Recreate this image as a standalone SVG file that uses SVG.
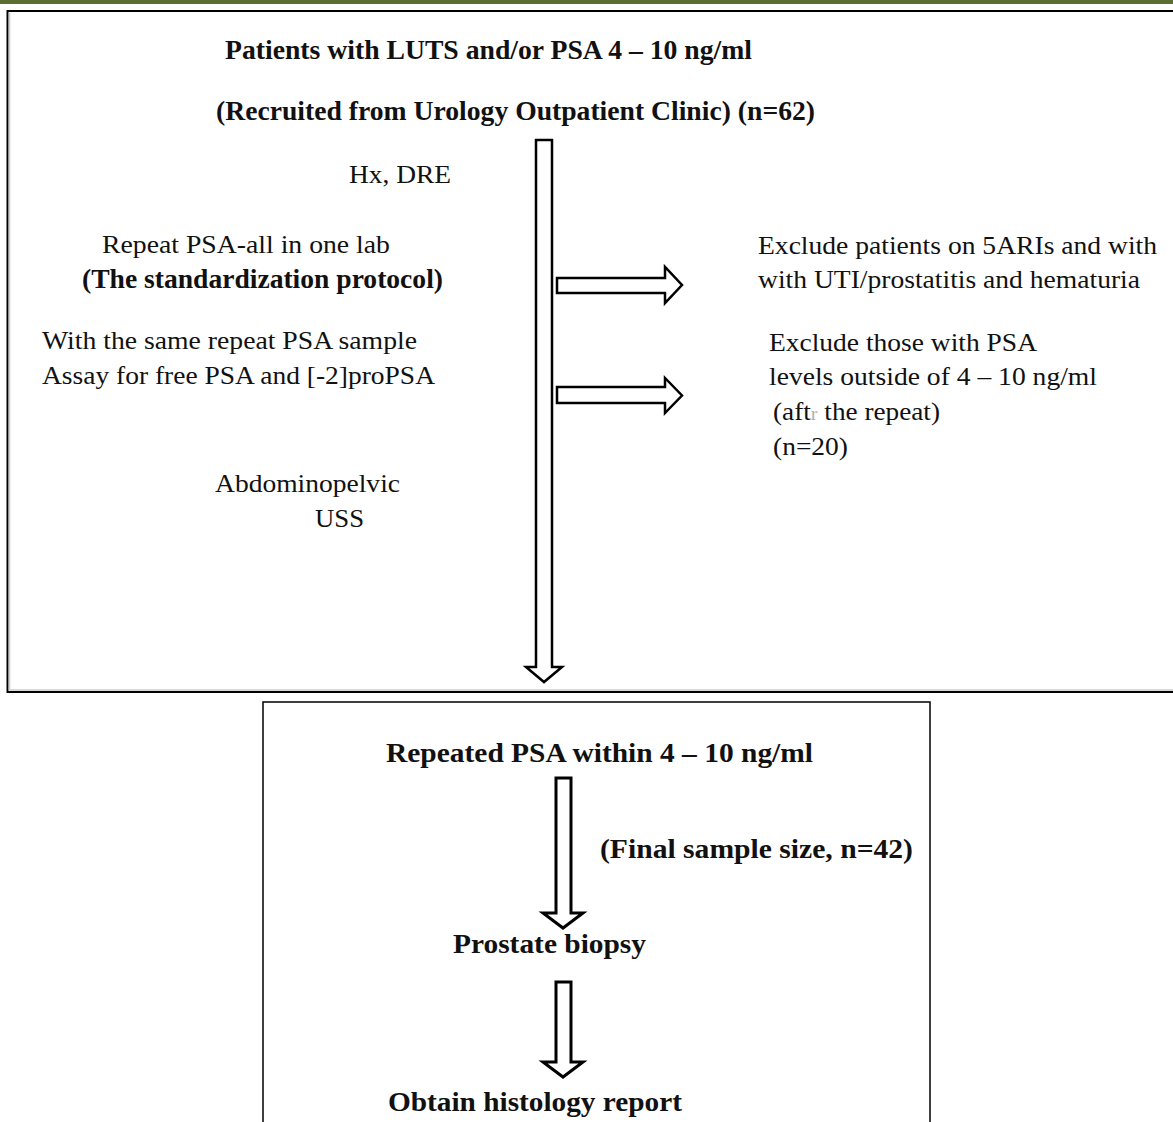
<svg xmlns="http://www.w3.org/2000/svg" width="1173" height="1122" viewBox="0 0 1173 1122">
<style>
.box{fill:#fff;stroke:#000;stroke-width:2}
.arrow{fill:#fff;stroke:#000;stroke-width:2.5;stroke-linejoin:miter}
.arrow2{fill:#fff;stroke:#000;stroke-width:3;stroke-linejoin:miter}
.t{font-family:"Liberation Serif","Times New Roman",serif;font-size:25.5px;fill:#111}
.b{font-family:"Liberation Serif","Times New Roman",serif;font-size:27.5px;font-weight:bold;fill:#111}
</style>
<rect x="0" y="0" width="1173" height="1122" fill="#fff"/>
<rect x="0" y="0" width="1173" height="4" fill="#5b6e2f"/>
<g id="box-screening">
<rect class="box" x="7.5" y="11" width="1180" height="681"/>
<line x1="9.5" y1="13" x2="9.5" y2="690" stroke="#ccc" stroke-width="1.5"/>
<line x1="9.5" y1="690" x2="1173" y2="690" stroke="#ccc" stroke-width="1.5"/>
<text class="b" x="225" y="59" textLength="527" lengthAdjust="spacingAndGlyphs">Patients with LUTS and/or PSA 4 – 10 ng/ml</text>
<text class="b" x="216" y="120" textLength="599" lengthAdjust="spacingAndGlyphs">(Recruited from Urology Outpatient Clinic) (n=62)</text>
<text class="t" x="349" y="183" textLength="102" lengthAdjust="spacingAndGlyphs">Hx, DRE</text>
<text class="t" x="102" y="253" textLength="288" lengthAdjust="spacingAndGlyphs">Repeat PSA-all in one lab</text>
<text class="b" x="82" y="288" textLength="361" lengthAdjust="spacingAndGlyphs">(The standardization protocol)</text>
<text class="t" x="42" y="349" textLength="375" lengthAdjust="spacingAndGlyphs">With the same repeat PSA sample</text>
<text class="t" x="42" y="384" textLength="393" lengthAdjust="spacingAndGlyphs">Assay for free PSA and [-2]proPSA</text>
<text class="t" x="215" y="492" textLength="185" lengthAdjust="spacingAndGlyphs">Abdominopelvic</text>
<text class="t" x="315" y="527" textLength="49" lengthAdjust="spacingAndGlyphs">USS</text>
</g>
<g id="exclusion-1">
<text class="t" x="758" y="254" textLength="399" lengthAdjust="spacingAndGlyphs">Exclude patients on 5ARIs and with</text>
<text class="t" x="758" y="288" textLength="382" lengthAdjust="spacingAndGlyphs">with UTI/prostatitis and hematuria</text>
</g>
<g id="exclusion-2">
<text class="t" x="769" y="351" textLength="268" lengthAdjust="spacingAndGlyphs">Exclude those with PSA</text>
<text class="t" x="769" y="385" textLength="328" lengthAdjust="spacingAndGlyphs">levels outside of 4 – 10 ng/ml</text>
<text class="t" x="773" y="420" textLength="167" lengthAdjust="spacingAndGlyphs">(aft<tspan fill="#b0b0b0" font-size="19">r</tspan> the repeat)</text>
<text class="t" x="773" y="455" textLength="75" lengthAdjust="spacingAndGlyphs">(n=20)</text>
</g>
<g id="box-final">
<rect x="263" y="702" width="667" height="440" fill="#fff" stroke="#000" stroke-width="1.5"/>
<text class="b" x="386" y="762" textLength="427" lengthAdjust="spacingAndGlyphs">Repeated PSA within 4 – 10 ng/ml</text>
<text class="b" x="600" y="858" textLength="313" lengthAdjust="spacingAndGlyphs">(Final sample size, n=42)</text>
</g>
<g id="node-biopsy">
<text class="b" x="453" y="953" textLength="193" lengthAdjust="spacingAndGlyphs">Prostate biopsy</text>
</g>
<g id="node-histology">
<text class="b" x="388" y="1111" textLength="294" lengthAdjust="spacingAndGlyphs">Obtain histology report</text>
</g>
<g id="connectors">
<path class="arrow" d="M536,140 H552 V667 H562 L544,682 L526,667 H536 Z"/>
<path class="arrow" d="M557,278 H665 V267 L682,285 L665,303 V293 H557 Z"/>
<path class="arrow" d="M557,387 H665 V378 L682,395.5 L665,413 V403 H557 Z"/>
<path class="arrow2" d="M556,778 H571 V913 H583 L563,928 L543,913 H556 Z"/>
<path class="arrow2" d="M556,982 H571 V1062 H583 L563,1077 L543,1062 H556 Z"/>
</g>
</svg>
